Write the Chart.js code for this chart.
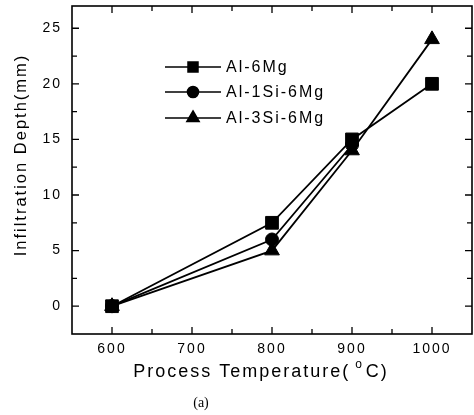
<!DOCTYPE html>
<html>
<head>
<meta charset="utf-8">
<script src="https://cdn.jsdelivr.net/npm/chart.js@4.4.0/dist/chart.umd.min.js"></script>
<style>
  html, body { margin: 0; padding: 0; background: #fff; }
  #wrap { width: 474px; height: 415px; }
</style>
</head>
<body>
<div id="wrap"><canvas id="c" width="474" height="415"></canvas></div>
<script>
// ---- data ----
const temps = [600, 800, 900, 1000];
const al6Mg = [0, 7.5, 15, 20];
const al1Si6Mg = [0, 6, 14.5, null];
const al3Si6Mg = [0, 5, 14, 24];
const seriesNames = ['Al-6Mg', 'Al-1Si-6Mg', 'Al-3Si-6Mg'];
const xTicks = [600, 700, 800, 900, 1000];
const yTicks = [0, 5, 10, 15, 20, 25];
const xTitle = 'Process Temperature( ';
const xTitleSup = 'o';
const xTitleEnd = 'C)';
const yTitle = 'Infiltration Depth(mm)';
const caption = '(a)';

const FONT = "'Liberation Sans', Arial, sans-serif";
const SPACING = '2px';

function pts(vals) { return temps.map((t, i) => ({ x: t, y: vals[i] })); }

const setSpacing = {
  id: 'setSpacing',
  beforeLayout(chart) { chart.ctx.letterSpacing = SPACING; },
  beforeDraw(chart) { chart.ctx.letterSpacing = SPACING; }
};

function zeroPad(s) { s.paddingTop = 0; s.paddingBottom = 0; s.paddingLeft = 0; s.paddingRight = 0; }

const frameAndExtras = {
  id: 'frameAndExtras',
  afterDraw(chart) {
    const ctx = chart.ctx;
    const a = chart.chartArea;
    const xs = chart.scales.x, ys = chart.scales.y;
    ctx.save();
    ctx.letterSpacing = SPACING;
    ctx.strokeStyle = '#000';
    // frame
    ctx.lineWidth = 1.6;
    ctx.strokeRect(a.left, a.top, a.right - a.left, a.bottom - a.top);
    // inward ticks
    ctx.lineWidth = 1.3;
    const MAJ = 7, MIN = 5;
    const xStep = xTicks[1] - xTicks[0];
    const yStep = yTicks[1] - yTicks[0];
    ctx.beginPath();
    for (let v = xTicks[0] - xStep / 2; v <= xTicks[xTicks.length - 1] + xStep / 2 + 1e-9; v += xStep / 2) {
      const px = xs.getPixelForValue(v);
      if (px < a.left + 1 || px > a.right - 1) continue;
      const major = xTicks.includes(v);
      const L = major ? MAJ : MIN;
      ctx.moveTo(px, a.bottom); ctx.lineTo(px, a.bottom - L);
      ctx.moveTo(px, a.top); ctx.lineTo(px, a.top + L);
    }
    for (let v = yTicks[0] - yStep / 2; v <= yTicks[yTicks.length - 1] + yStep / 2 + 1e-9; v += yStep / 2) {
      const py = ys.getPixelForValue(v);
      if (py < a.top + 1 || py > a.bottom - 1) continue;
      const major = yTicks.includes(v);
      const L = major ? MAJ : MIN;
      ctx.moveTo(a.left, py); ctx.lineTo(a.left + L, py);
      ctx.moveTo(a.right, py); ctx.lineTo(a.right - L, py);
    }
    ctx.stroke();

    // legend (inside plot)
    ctx.fillStyle = '#000';
    ctx.font = '16px ' + FONT;
    ctx.textBaseline = 'middle';
    ctx.textAlign = 'left';
    const rows = [61, 86, 112];
    const legR = [7, 5.5, 7];
    chart.data.datasets.forEach((ds, i) => {
      const y = a.top + rows[i];
      const x0 = a.left + 93, x1 = a.left + 149, xm = a.left + 121;
      ctx.lineWidth = 1.6;
      ctx.strokeStyle = '#000';
      ctx.beginPath(); ctx.moveTo(x0, y); ctx.lineTo(x1, y); ctx.stroke();
      Chart.helpers.drawPoint(ctx, { pointStyle: ds.pointStyle, radius: legR[i], rotation: 0, borderWidth: 1 }, xm, y);
      ctx.fillStyle = '#000';
      ctx.fill();
      ctx.fillText(ds.label, a.left + 154, y + 1);
    });

    // x title
    ctx.font = '18px ' + FONT;
    ctx.textBaseline = 'alphabetic';
    const w1 = ctx.measureText(xTitle).width;
    ctx.font = '12px ' + FONT;
    const w2 = ctx.measureText(xTitleSup).width;
    ctx.font = '18px ' + FONT;
    const w3 = ctx.measureText(xTitleEnd).width;
    let sx = 261 - (w1 + w2 + w3) / 2;
    const by = 377;
    ctx.fillText(xTitle, sx, by);
    ctx.font = '12px ' + FONT;
    ctx.fillText(xTitleSup, sx + w1 - 2, by - 9);
    ctx.font = '18px ' + FONT;
    ctx.fillText(xTitleEnd, sx + w1 + w2, by);

    // y title
    ctx.save();
    ctx.translate(21, 155);
    ctx.rotate(-Math.PI / 2);
    ctx.font = '16.5px ' + FONT;
    ctx.textAlign = 'center';
    ctx.textBaseline = 'middle';
    ctx.fillText(yTitle, 0, 0);
    ctx.restore();

    // caption
    ctx.letterSpacing = '0px';
    ctx.font = "14px 'Liberation Serif', 'Times New Roman', serif";
    ctx.textAlign = 'center';
    ctx.textBaseline = 'middle';
    ctx.fillText(caption, 201, 403);
    ctx.restore();
  }
};

const common = { borderColor: '#000', backgroundColor: '#000', pointBackgroundColor: '#000', pointBorderColor: '#000', borderWidth: 1.8, pointBorderWidth: 1, tension: 0, spanGaps: false };

new Chart(document.getElementById('c'), {
  type: 'line',
  data: {
    datasets: [
      Object.assign({ label: seriesNames[0], data: pts(al6Mg), pointStyle: 'rect', pointRadius: 9 }, common),
      Object.assign({ label: seriesNames[1], data: pts(al1Si6Mg), pointStyle: 'circle', pointRadius: 6.5 }, common),
      Object.assign({ label: seriesNames[2], data: pts(al3Si6Mg), pointStyle: 'triangle', pointRadius: 8.5 }, common)
    ]
  },
  options: {
    responsive: false,
    animation: false,
    devicePixelRatio: 1,
    layout: { autoPadding: false, padding: { top: 6, right: 2, left: 0, bottom: 0 } },
    plugins: { legend: { display: false }, tooltip: { enabled: false } },
    scales: {
      x: {
        type: 'linear', min: 550, max: 1050,
        afterBuildTicks(s) { s.ticks = xTicks.map(v => ({ value: v })); },
        afterFit(s) { s.height = 81; zeroPad(s); },
        grid: { display: false, drawTicks: false },
        border: { display: false },
        ticks: { color: '#000', padding: 7, maxRotation: 0, callback: v => String(v), font: { family: FONT, size: 14 } }
      },
      y: {
        type: 'linear', min: -2.5, max: 27,
        afterBuildTicks(s) { s.ticks = yTicks.map(v => ({ value: v })); },
        afterFit(s) { s.width = 72; zeroPad(s); },
        grid: { display: false, drawTicks: false },
        border: { display: false },
        ticks: { color: '#000', padding: 10, callback: v => String(v), font: { family: FONT, size: 14 } }
      }
    }
  },
  plugins: [setSpacing, frameAndExtras]
});
</script>
</body>
</html>
